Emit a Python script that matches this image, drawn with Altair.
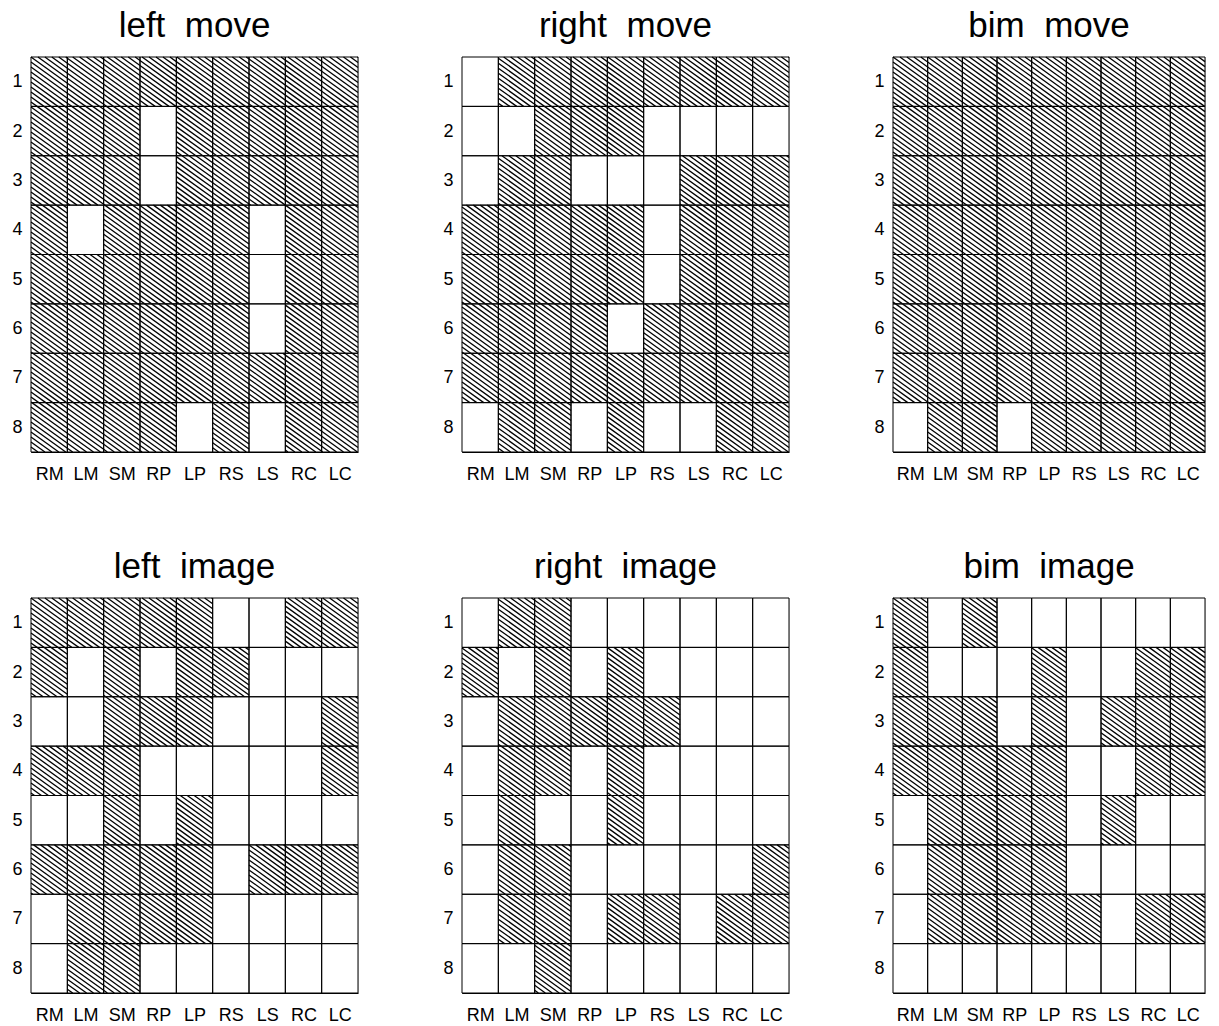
import math
import altair as alt
import pandas as pd

# ---- data ----
cols = ["RM", "LM", "SM", "RP", "LP", "RS", "LS", "RC", "LC"]
row_labels = ["1", "2", "3", "4", "5", "6", "7", "8"]
titles = ["left\u00a0 move", "right\u00a0 move", "bim\u00a0 move",
          "left\u00a0 image", "right\u00a0 image", "bim\u00a0 image"]

# 1 = hatched cell, rows 1..8 (top to bottom), columns as in `cols`
left_move = ["111111111", "111011111", "111011111", "101111011",
             "111111011", "111111011", "111111111", "111101011"]
right_move = ["011111111", "001110000", "011000111", "111110111",
              "111110111", "111101111", "111111111", "011010011"]
bim_move = ["111111111", "111111111", "111111111", "111111111",
            "111111111", "111111111", "111111111", "011011111"]
left_image = ["111110011", "101011000", "001110001", "111000001",
              "001010000", "111110111", "011110000", "011000000"]
right_image = ["011000000", "101010000", "011111000", "011010000",
               "010010000", "011000001", "011011011", "001000000"]
bim_image = ["101000000", "100010011", "111010111", "111110011",
             "011110100", "011110000", "011111011", "000000000"]

panels = [left_move, right_move, bim_move, left_image, right_image, bim_image]

# ---- style / layout ----
PW, PH = 327, 395
PW_LAST = 312
SLOPE = 0.72      # hatch slope (down-right)
GAP = 5.0         # vertical spacing between hatch lines, px

FONT = "Liberation Sans"
x_expr = "[" + ",".join("'%s'" % c for c in cols) + "][floor(datum.value)]"
y_expr = "[" + ",".join("'%s'" % r for r in row_labels) + "][floor(datum.value)]"


def cell_frame(grid):
    recs = []
    for j, row in enumerate(grid):
        for i, ch in enumerate(row):
            recs.append({"x0": i, "x1": i + 1, "y0": j, "y1": j + 1, "h": int(ch)})
    return pd.DataFrame(recs)


def hatch_frame(grid, pw):
    cw, chh = pw / len(cols), PH / len(row_labels)
    recs = []
    for j, row in enumerate(grid):
        for i, ch in enumerate(row):
            if ch != "1":
                continue
            px0, px1 = i * cw, (i + 1) * cw
            py0, py1 = j * chh, (j + 1) * chh
            cmin = py0 - SLOPE * px1
            cmax = py1 - SLOPE * px0
            for k in range(math.ceil(cmin / GAP), math.floor(cmax / GAP) + 1):
                c = k * GAP
                xa = max(px0, (py0 - c) / SLOPE)
                xb = min(px1, (py1 - c) / SLOPE)
                if xb - xa > 0.3:
                    recs.append({"x0": xa / cw, "x1": xb / cw,
                                 "y0": (SLOPE * xa + c) / chh,
                                 "y1": (SLOPE * xb + c) / chh})
    if not recs:
        recs = [{"x0": 0, "x1": 0, "y0": 0, "y1": 0}]
    return pd.DataFrame(recs)


def enc(ch):
    return ch.encode(
        x=alt.X("x0:Q",
                scale=alt.Scale(domain=[0, len(cols)], nice=False, zero=False),
                axis=alt.Axis(values=[i + 0.5 for i in range(len(cols))],
                              labelExpr=x_expr, title=None, grid=False,
                              ticks=False, labelPadding=13, labelFontSize=18,
                              labelFont=FONT, labelColor="black",
                              domainColor="black", labelAngle=0)),
        x2="x1:Q",
        y=alt.Y("y0:Q",
                scale=alt.Scale(domain=[0, len(row_labels)], reverse=True,
                                nice=False, zero=False),
                axis=alt.Axis(values=[j + 0.5 for j in range(len(row_labels))],
                              labelExpr=y_expr, title=None, grid=False,
                              ticks=False, labelPadding=9, labelFontSize=18,
                              labelFont=FONT, labelColor="black",
                              domainColor="black")),
        y2="y1:Q",
    )


def panel(grid, title, pw):
    cells = cell_frame(grid)
    hatch = hatch_frame(grid, pw)
    bg = enc(alt.Chart(cells).mark_rect(fill="white", strokeWidth=0))
    lines = enc(alt.Chart(hatch).mark_rule(color="black", strokeWidth=1.3))
    borders = enc(alt.Chart(cells).mark_rect(fill=None, stroke="black",
                                             strokeWidth=1, fillOpacity=0))
    return alt.layer(bg, lines, borders).properties(
        width=pw, height=PH,
        title=alt.TitleParams(title, fontSize=35, font=FONT,
                              fontWeight="normal", color="black",
                              offset=7, dy=-5),
    )


widths = [PW, PW, PW_LAST, PW, PW, PW_LAST]
charts = [panel(g, t, w) for g, t, w in zip(panels, titles, widths)]
top = alt.hconcat(*charts[:3], spacing=82)
bottom = alt.hconcat(*charts[3:], spacing=82)
chart = alt.vconcat(top, bottom, spacing=65).properties(
    padding={"left": 3, "top": 0, "right": 0, "bottom": 2}
).configure_view(stroke=None).configure(background="white")

chart.save("out.html", embed_options={"renderer": "svg", "actions": False})
